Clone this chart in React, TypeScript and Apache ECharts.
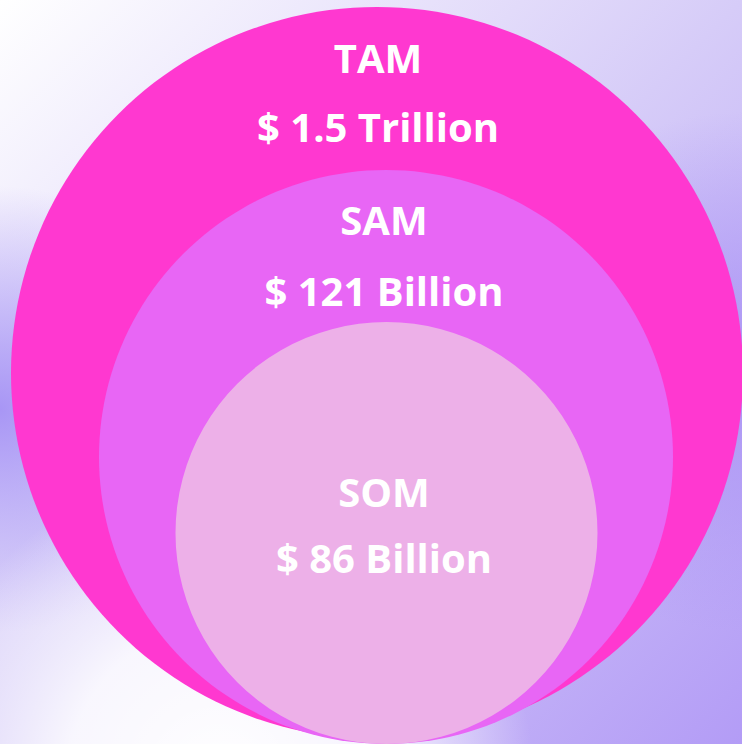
import React, { useEffect, useRef } from "react";
import * as echarts from "echarts";

const segments = ["TAM", "SAM", "SOM"];
const valueLabels = ["$ 1.5 Trillion", "$ 121 Billion", "$ 86 Billion"];
const centerX = [377, 386, 386.5];
const centerY = [373, 457, 533];
const radius = [366, 287, 211];
const titleY = [57, 219, 491];
const valueY = [126, 290, 557];
const labelX = [378, 384, 384];
const fills = ["#FF38D0", "#E866F5", "#EDB0E8"];

export default function App() {
  const ref = useRef<HTMLDivElement>(null);
  useEffect(() => {
    document.body.style.margin = "0";
    const chart = echarts.init(ref.current!, null, { renderer: "svg" });
    const data = segments.map((s, i) => [centerX[i], centerY[i], radius[i], labelX[i], titleY[i], valueY[i], i]);
    chart.setOption({
      animation: false,
      grid: { left: 0, right: 0, top: 0, bottom: 0 },
      xAxis: { type: "value", min: 0, max: 742, show: false },
      yAxis: { type: "value", min: 0, max: 744, inverse: true, show: false },
      graphic: [
        {
          type: "rect", z: -10, shape: { x: 0, y: 0, width: 742, height: 744 },
          style: {
            fill: new echarts.graphic.LinearGradient(0, 0, 1, 1, [
              { offset: 0, color: "#ffffff" },
              { offset: 0.5, color: "#d6ccf8" },
              { offset: 1, color: "#b39cf6" },
            ]),
          },
        },
        {
          type: "rect", z: -9, shape: { x: 0, y: 0, width: 742, height: 744 },
          style: {
            fill: new echarts.graphic.RadialGradient(0, 0.55, 0.3, [
              { offset: 0, color: "rgba(168,150,245,1)" },
              { offset: 1, color: "rgba(168,150,245,0)" },
            ]),
          },
        },
        {
          type: "rect", z: -9, shape: { x: 0, y: 0, width: 742, height: 744 },
          style: {
            fill: new echarts.graphic.RadialGradient(1, 0.5, 0.35, [
              { offset: 0, color: "rgba(172,150,245,1)" },
              { offset: 1, color: "rgba(172,150,245,0)" },
            ]),
          },
        },
        {
          type: "rect", z: -8, shape: { x: 0, y: 0, width: 742, height: 744 },
          style: {
            fill: new echarts.graphic.RadialGradient(0.3, 1.05, 0.42, [
              { offset: 0, color: "rgba(255,255,255,1)" },
              { offset: 0.5, color: "rgba(255,255,255,0.85)" },
              { offset: 1, color: "rgba(255,255,255,0)" },
            ]),
          },
        },
      ],
      series: [
        {
          type: "custom",
          coordinateSystem: "cartesian2d",
          data,
          renderItem: (params: any, api: any) => {
            const c = api.coord([api.value(0), api.value(1)]);
            const r = api.size([api.value(2), 0])[0];
            const lp = api.coord([api.value(3), api.value(4)]);
            const vp = api.coord([api.value(3), api.value(5)]);
            const i = api.value(6);
            return {
              type: "group",
              children: [
                { type: "circle", shape: { cx: c[0], cy: c[1], r }, style: { fill: fills[i] } },
                {
                  type: "text", x: lp[0], y: lp[1],
                  style: { text: segments[i], fill: "#ffffff", font: "bold 40px 'Open Sans'", align: "center", verticalAlign: "middle" },
                },
                {
                  type: "text", x: vp[0], y: vp[1],
                  style: { text: valueLabels[i], fill: "#ffffff", font: "bold 40px 'Open Sans'", align: "center", verticalAlign: "middle" },
                },
              ],
            };
          },
        },
      ],
    });
    return () => chart.dispose();
  }, []);
  return <div ref={ref} style={{ width: 742, height: 744 }} />;
}
